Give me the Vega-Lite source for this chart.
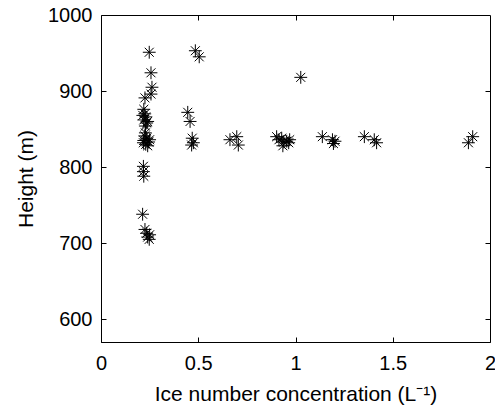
{
  "$schema": "https://vega.github.io/schema/vega-lite/v6.json",
  "autosize": {"type": "none"},
  "padding": {"left": 101, "top": 15, "right": 5, "bottom": 68},
  "width": 389,
  "height": 327,
  "background": "white",
  "config": {
    "view": {"stroke": "black", "strokeWidth": 1},
    "font": "Liberation Sans",
    "axis": {
      "labelFont": "Liberation Sans",
      "titleFont": "Liberation Sans",
      "labelFontSize": 20,
      "titleFontSize": 21,
      "titleFontWeight": "normal",
      "labelColor": "black",
      "titleColor": "black",
      "domainColor": "black",
      "tickColor": "black",
      "grid": false
    }
  },
  "data": {
    "values": [
      {"c": 0.248, "h": 951}, {"c": 0.257, "h": 924}, {"c": 0.262, "h": 905}, {"c": 0.257, "h": 896},
      {"c": 0.226, "h": 891}, {"c": 0.22, "h": 876}, {"c": 0.225, "h": 870}, {"c": 0.23, "h": 866},
      {"c": 0.22, "h": 862}, {"c": 0.235, "h": 858}, {"c": 0.228, "h": 854}, {"c": 0.24, "h": 860},
      {"c": 0.215, "h": 868}, {"c": 0.225, "h": 841}, {"c": 0.235, "h": 838}, {"c": 0.22, "h": 835},
      {"c": 0.245, "h": 833}, {"c": 0.23, "h": 830}, {"c": 0.24, "h": 828}, {"c": 0.218, "h": 832},
      {"c": 0.25, "h": 836}, {"c": 0.228, "h": 845}, {"c": 0.218, "h": 801}, {"c": 0.218, "h": 794},
      {"c": 0.22, "h": 788}, {"c": 0.214, "h": 738}, {"c": 0.226, "h": 718}, {"c": 0.235, "h": 713},
      {"c": 0.24, "h": 708}, {"c": 0.248, "h": 705}, {"c": 0.25, "h": 711},
      {"c": 0.485, "h": 953}, {"c": 0.505, "h": 945}, {"c": 0.446, "h": 872}, {"c": 0.458, "h": 860},
      {"c": 0.469, "h": 838}, {"c": 0.466, "h": 829}, {"c": 0.475, "h": 832},
      {"c": 0.663, "h": 836}, {"c": 0.698, "h": 840}, {"c": 0.706, "h": 829},
      {"c": 0.903, "h": 840}, {"c": 0.915, "h": 836}, {"c": 0.929, "h": 838}, {"c": 0.94, "h": 833},
      {"c": 0.955, "h": 834}, {"c": 0.935, "h": 828}, {"c": 0.965, "h": 832}, {"c": 0.97, "h": 836},
      {"c": 1.027, "h": 918},
      {"c": 1.138, "h": 840}, {"c": 1.203, "h": 834}, {"c": 1.195, "h": 831}, {"c": 1.19, "h": 836},
      {"c": 1.354, "h": 840}, {"c": 1.405, "h": 836}, {"c": 1.417, "h": 832},
      {"c": 1.889, "h": 832}, {"c": 1.911, "h": 840}
    ]
  },
  "layer": [
    {
      "mark": {
        "type": "point",
        "shape": "M-1,0H1M0,-1V1M-0.7,-0.7L0.7,0.7M-0.7,0.7L0.7,-0.7",
        "size": 165,
        "filled": false,
        "stroke": "black",
        "strokeWidth": 1,
        "opacity": 1
      },
      "encoding": {
        "x": {
          "field": "c", "type": "quantitative",
          "scale": {"domain": [0, 2], "nice": false, "zero": false},
          "axis": {"values": [0, 0.5, 1, 1.5, 2], "title": "Ice number concentration (L⁻¹)", "ticks": false, "tickSize": 0, "labelPadding": 11, "titlePadding": 10, "labelFlush": false, "format": "~g", "titleFontWeight": "normal"}
        },
        "y": {
          "field": "h", "type": "quantitative",
          "scale": {"domain": [570, 1000], "nice": false, "zero": false},
          "axis": {"values": [600, 700, 800, 900, 1000], "title": "Height (m)", "ticks": false, "tickSize": 0, "labelPadding": 9, "titlePadding": 11, "labelFlush": false, "format": "d", "titleFontWeight": "normal"}
        }
      }
    },
    {
      "mark": {"type": "point", "opacity": 0},
      "encoding": {
        "x": {
          "field": "c", "type": "quantitative",
          "scale": {"domain": [0, 2], "nice": false, "zero": false},
          "axis": {"orient": "top", "offset": -327, "values": [0.5, 1, 1.5], "labels": false, "domain": false, "tickSize": 5, "title": null}
        },
        "y": {
          "field": "h", "type": "quantitative",
          "scale": {"domain": [570, 1000], "nice": false, "zero": false},
          "axis": {"orient": "right", "offset": -389, "values": [600, 700, 800, 900], "labels": false, "domain": false, "tickSize": 5, "title": null}
        }
      }
    },
    {
      "mark": {"type": "point", "opacity": 0},
      "encoding": {
        "x": {
          "field": "c", "type": "quantitative",
          "scale": {"domain": [0, 2], "nice": false, "zero": false},
          "axis": {"orient": "bottom", "offset": -327, "values": [0.5, 1, 1.5], "labels": false, "domain": false, "tickSize": 5, "title": null}
        },
        "y": {
          "field": "h", "type": "quantitative",
          "scale": {"domain": [570, 1000], "nice": false, "zero": false},
          "axis": {"orient": "left", "offset": -389, "values": [600, 700, 800, 900], "labels": false, "domain": false, "tickSize": 5, "title": null}
        }
      }
    }
  ],
  "resolve": {"axis": {"x": "independent", "y": "independent"}}
}
